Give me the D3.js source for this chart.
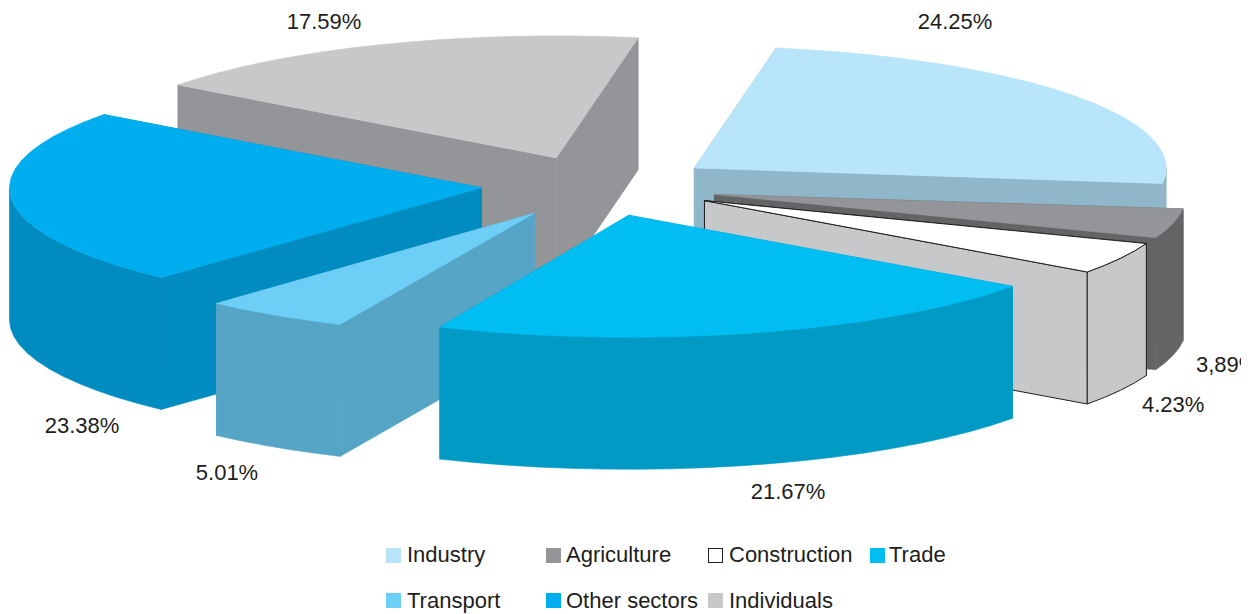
<!DOCTYPE html>
<html><head><meta charset="utf-8">
<style>html,body{margin:0;padding:0;background:#fff}svg{display:block}text{font-family:"Liberation Sans",Arial,sans-serif;fill:#1d1d1b;font-size:22px}</style>
<script src="https://cdn.jsdelivr.net/npm/d3@7/dist/d3.min.js"></script>
</head><body>
<svg id="c" width="1256" height="614"></svg>
<script>
const categories = ["Industry","Agriculture","Construction","Trade","Transport","Other sectors","Individuals"];
const shares = [24.25,3.89,4.23,21.67,5.01,23.38,17.59];
const shareLabels = ["24.25%","3,89%","4.23%","21.67%","5.01%","23.38%","17.59%"];
const topColors = ["#b9e5fb","#939598","#ffffff","#00bdf2","#6dcff6","#00aeef","#c7c8ca"];
const sideColors = ["#90b6c9","#636466","#c7c8ca","#009ac4","#56a5c6","#008cc0","#939598"];

// layout
const cx=599, cy=185, rx=472, ry=122, depth=132, explode=0.248;
const startAngle=10*Math.PI/180;
const step=4*Math.PI/180;
const sliceTurnDeg=[0,-0.5,-0.7,-0.9,-0.2,0.2,0];
const sliceShift=[1,2,3,0.5,0,-1,0.5];
const sliceDrop=[1,2,1,1,3,0,1];
const labelPos=[[955,29,"middle"],[1196,372,"start"],[1142,412,"start"],[788,499,"middle"],[227,480,"middle"],[82,433,"middle"],[324,29,"middle"]];
const legendCols=[386,546,708,870], legendTextCols=[407,566,729,889], legendRows=[548,593], legendBase=[562,608];

const svg=d3.select("#c");
svg.append("defs").append("clipPath").attr("id","page").append("rect").attr("width",1241).attr("height",614);
const root=svg.append("g");

const pie=d3.pie().sort(null).startAngle(startAngle).endAngle(startAngle+2*Math.PI);
const arcs=pie(shares);
const x=d3.scaleLinear().domain([-1,1]).range([-rx,rx]);
const y=d3.scaleLinear().domain([-1,1]).range([-ry,ry]);
const line=d3.line();

function slice(d,i){
  const mid=(d.startAngle+d.endAngle)/2;
  const ox=cx+explode*x(Math.sin(mid))+sliceShift[i], oy=cy-explode*y(Math.cos(mid))+sliceDrop[i];
  const turn=sliceTurnDeg[i]*Math.PI/180;
  const a0=d.startAngle+turn, a1=d.endAngle+turn;
  const pt=(a,z=0)=>[ox+x(Math.sin(a)), oy-y(Math.cos(a))+z];
  const sweep=(s,e,z=0)=>{
    const n=Math.max(1,Math.round((e-s)/step));
    return d3.range(n+1).map(k=>pt(s+(e-s)*k/n,z));
  };
  const apex=[ox,oy];
  const outlined=categories[i]==="Construction";
  const g=root.append("g").attr("data-name",categories[i]);
  const sideStroke=outlined?"#231f20":sideColors[i], topStroke=outlined?"#231f20":topColors[i], w=outlined?1:0.6;
  // radial walls, the one further back first
  [a0,a1].sort((a,b)=>pt(a)[1]-pt(b)[1]).forEach(a=>{
    const e=pt(a);
    g.append("path").attr("d",line([apex,e,[e[0],e[1]+depth],[ox,oy+depth]])+"Z")
      .attr("fill",sideColors[i]).attr("stroke",sideStroke).attr("stroke-width",w);
  });
  // outer curved wall, front half only
  const lo=Math.max(a0,Math.PI/2), hi=Math.min(a1,1.5*Math.PI);
  if(hi>lo){
    g.append("path").attr("d",line(sweep(lo,hi).concat(sweep(lo,hi,depth).reverse()))+"Z")
      .attr("fill",sideColors[i]).attr("stroke",sideStroke).attr("stroke-width",w);
  }
  g.append("path").attr("d",line([apex].concat(sweep(a0,a1)))+"Z")
    .attr("fill",topColors[i]).attr("stroke",topStroke).attr("stroke-width",w);
}
arcs.map((d,i)=>({d,i,k:Math.cos((d.startAngle+d.endAngle)/2)}))
  .sort((a,b)=>b.k-a.k)
  .forEach(o=>slice(o.d,o.i));

const labels=svg.append("g").attr("clip-path","url(#page)");
shareLabels.forEach((t,i)=>{
  labels.append("text").attr("x",labelPos[i][0]).attr("y",labelPos[i][1]).attr("text-anchor",labelPos[i][2]).text(t);
});

const lg=svg.append("g");
categories.forEach((c,i)=>{
  const col=i%4, row=i<4?0:1;
  const lx=legendCols[col], ly=legendRows[row];
  const white=c==="Construction";
  lg.append("rect").attr("x",white?lx+.5:lx).attr("y",white?ly+.5:ly).attr("width",white?14:15).attr("height",white?14:15)
    .attr("fill",topColors[i]).attr("stroke",white?"#231f20":"none").attr("stroke-width",1);
  lg.append("text").attr("x",legendTextCols[col]).attr("y",legendBase[row]).text(c);
});
</script>
</body></html>
